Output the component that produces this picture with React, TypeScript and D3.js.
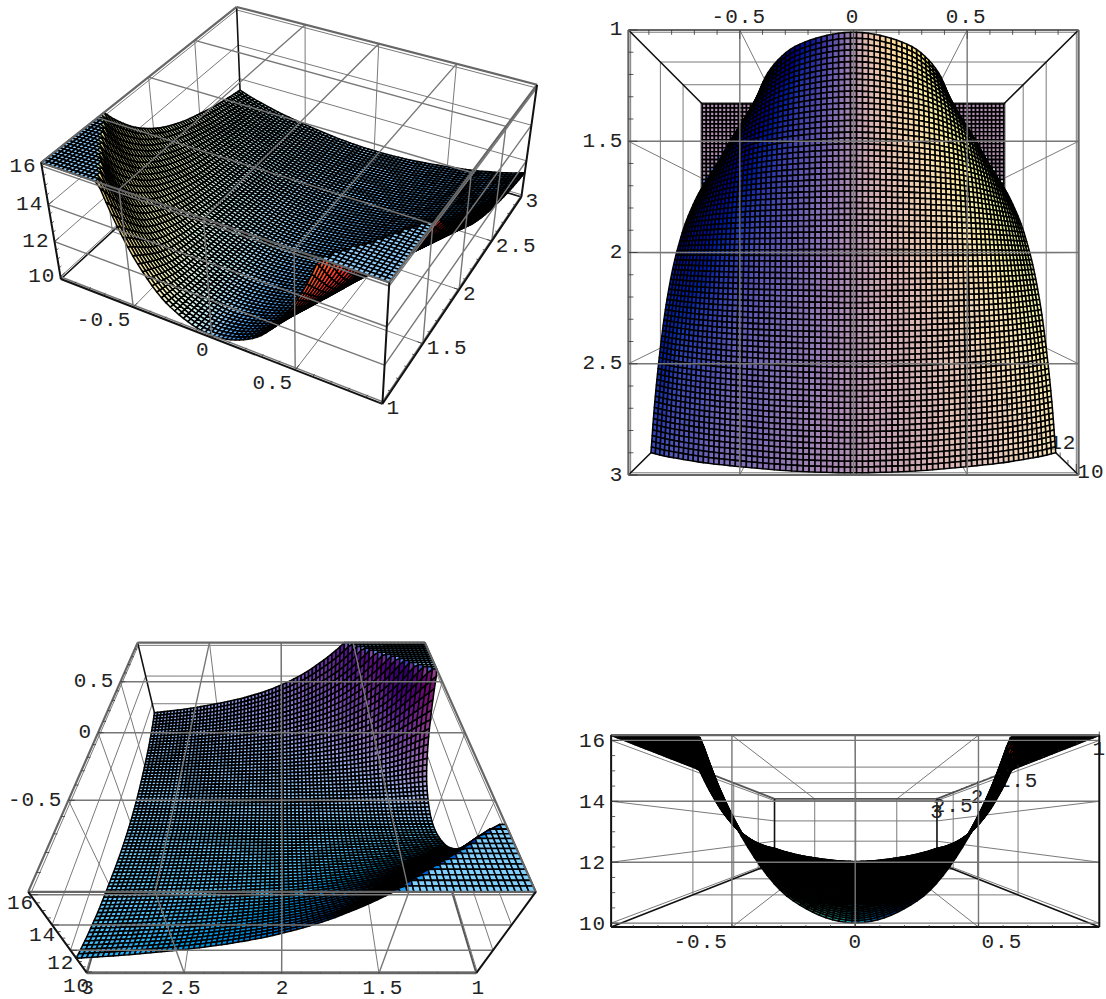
import React from "react";
import * as d3 from "d3";

// ---- data ----
const xTicks = [-0.5, 0, 0.5];
const yTicks = [1, 1.5, 2, 2.5, 3];
const zTicks = [10, 12, 14, 16];
const xDomain = [-0.99, 0.99];
const yDomain = [1, 3];
const zDomain = [9.87, 16.17];
const boxRatio = [1, 1, 0.4];

// surface height at |x| = 0, .1 ... 1, one row per y
const xKnots = [0, 0.1, 0.2, 0.3, 0.4, 0.5, 0.6, 0.7, 0.8, 0.9, 1];
const yKnots = [1, 1.25, 1.5, 1.75, 2, 2.25, 2.5, 2.75, 3];
const zY100 = [10, 10.13, 10.48, 11.05, 12.05, 13.45, 15.4, 18, 21, 24.5, 28];
const zY125 = [10, 10.09, 10.32, 10.67, 11.22, 12.05, 13.15, 14.55, 16.35, 18.6, 21];
const zY150 = [10, 10.06, 10.23, 10.48, 10.83, 11.33, 12.05, 12.95, 14.05, 15.4, 17];
const zY175 = [10, 10.05, 10.17, 10.36, 10.62, 10.96, 11.42, 12.05, 12.8, 13.7, 14.8];
const zY200 = [10, 10.03, 10.13, 10.28, 10.48, 10.72, 11.05, 11.48, 12.05, 12.7, 13.45];
const zY225 = [10, 10.03, 10.11, 10.23, 10.39, 10.59, 10.83, 11.15, 11.55, 12.05, 12.6];
const zY250 = [10, 10.02, 10.09, 10.19, 10.32, 10.48, 10.67, 10.92, 11.22, 11.57, 12.05];
const zY275 = [10, 10.02, 10.07, 10.15, 10.26, 10.41, 10.56, 10.75, 10.99, 11.27, 11.63];
const zY300 = [10, 10.02, 10.06, 10.13, 10.23, 10.35, 10.48, 10.63, 10.83, 11.05, 11.33];
const zRows = [zY100, zY125, zY150, zY175, zY200, zY225, zY250, zY275, zY300];

const meshCells = 75;

type V3 = [number, number, number];
type Corner = [number, number, number, number, number];
type AxisDef = {
  axis: "x" | "y" | "z"; at: [number, number]; dir: V3; labels: string[]; values: number[];
  anchor: string[]; dx: number[]; dy: number[]; behind?: boolean;
};
type PanelDef = {
  corners: Corner[]; axes: AxisDef[]; tilt: number; darkFloorEdges: boolean;
  normalZ: number; underGain: number; underLift: number; steepGain: number; wallBlue: number;
};

const [xa, xb] = xDomain, [ya, yb] = yDomain, [za, zb] = zDomain;
const all = (s: string) => [s, s, s, s, s];
const rep = (v: number) => [v, v, v, v, v];

// camera calibration: where each corner of the box lands in the picture
const panels: PanelDef[] = [
  {
    tilt: 0.25, darkFloorEdges: true, normalZ: 1, underGain: 1.35, underLift: 0.16, steepGain: 1, wallBlue: 0.25,
    corners: [
      [xa, ya, zb, 41.6, 163.3], [xb, ya, zb, 389.6, 284], [xb, yb, zb, 536, 84], [xa, yb, zb, 237, 6],
      [xa, ya, za, 60, 277.7], [xb, ya, za, 382.6, 403.3], [xb, yb, za, 522, 197], [xa, yb, za, 241, 114.6],
    ],
    axes: [
      { axis: "x", at: [ya, za], dir: [0, 0.04, 0], values: xTicks, labels: ["-0.5", "0", "0.5"], anchor: all("end"), dx: rep(-2), dy: rep(13) },
      { axis: "y", at: [xb, za], dir: [-0.03, 0, 0], values: yTicks, labels: ["1", "1.5", "2", "2.5", "3"], anchor: all("start"), dx: rep(4), dy: rep(5) },
      { axis: "z", at: [xa, ya], dir: [0, 0.04, 0], values: zTicks, labels: ["10", "12", "14", "16"], anchor: all("end"), dx: rep(-5), dy: rep(0) },
    ],
  },
  {
    tilt: 0, darkFloorEdges: false, normalZ: 0.6, underGain: 1, underLift: 0, steepGain: 1, wallBlue: 0,
    corners: [
      [xa, ya, za, 628.4, 30], [xb, ya, za, 1078.6, 30], [xb, yb, za, 1078.6, 475], [xa, yb, za, 628.4, 475],
      [xa, ya, zb, 702.3, 104], [xb, ya, zb, 1003.7, 104], [xb, yb, zb, 1003.7, 402], [xa, yb, zb, 702.3, 402],
    ],
    axes: [
      { axis: "x", at: [ya, za], dir: [0, 0.04, 0], values: xTicks, labels: ["-0.5", "0", "0.5"], anchor: all("middle"), dx: rep(-1), dy: rep(-12) },
      { axis: "y", at: [xa, za], dir: [0.04, 0, 0], values: yTicks, labels: ["1", "1.5", "2", "2.5", "3"], anchor: all("end"), dx: rep(-5), dy: rep(0) },
      { axis: "z", at: [xb, yb], dir: [0, -0.04, 0], values: zTicks, labels: ["10", "12", "14", "16"], anchor: all("start"), dx: [1, 3, 3, 3], dy: rep(0), behind: true },
    ],
  },
  {
    tilt: 0, darkFloorEdges: false, normalZ: 1, underGain: 1, underLift: 0, steepGain: 1.5, wallBlue: 0,
    corners: [
      [xa, yb, zb, 28.2, 891.7], [xa, ya, zb, 536, 891.7], [xb, yb, zb, 137.5, 642.7], [xb, ya, zb, 424.9, 642.7],
      [xa, yb, za, 87.1, 973.3], [xa, ya, za, 476, 973.3], [xb, yb, za, 158.7, 730.3], [xb, ya, za, 403.7, 730.3],
    ],
    axes: [
      { axis: "x", at: [yb, zb], dir: [0, -0.03, 0], values: xTicks, labels: ["-0.5", "0", "0.5"], anchor: all("end"), dx: rep(-6), dy: rep(0) },
      { axis: "y", at: [xa, za], dir: [0, 0, 0.12], values: yTicks, labels: ["1", "1.5", "2", "2.5", "3"], anchor: all("middle"), dx: [2, 4, 1, -3, 1], dy: rep(15) },
      { axis: "z", at: [xa, yb], dir: [0, -0.03, 0], values: zTicks, labels: ["10", "12", "14", "16"], anchor: all("end"), dx: rep(4), dy: [15, 13, 11, 9] },
    ],
  },
  {
    tilt: 0, darkFloorEdges: true, normalZ: 1, underGain: 1, underLift: 0, steepGain: 1, wallBlue: 0,
    corners: [
      [xa, ya, zb, 611.2, 735], [xb, ya, zb, 1099.2, 735], [xb, ya, za, 1099.2, 927.3], [xa, ya, za, 611.2, 927.3],
      [xa, yb, zb, 774.5, 799], [xb, yb, zb, 937, 799], [xb, yb, za, 937, 862.7], [xa, yb, za, 774.5, 862.7],
    ],
    axes: [
      { axis: "x", at: [ya, za], dir: [0, 0, 0.12], values: xTicks, labels: ["-0.5", "0", "0.5"], anchor: ["end", "middle", "start"], dx: [-4, 0, 3], dy: rep(15) },
      { axis: "y", at: [xb, zb], dir: [0, 0, 0.12], values: yTicks, labels: ["1", "1.5", "2", "2.5", "3"], anchor: all("middle"), dx: rep(0), dy: rep(14), behind: true },
      { axis: "z", at: [xa, ya], dir: [0.03, 0, 0], values: zTicks, labels: ["10", "12", "14", "16"], anchor: all("end"), dx: rep(-5), dy: rep(1) },
    ],
  },
];

// ---- small linear algebra ----
const sx = d3.scaleLinear().domain(xDomain).range([-boxRatio[0] / 2, boxRatio[0] / 2]);
const sy = d3.scaleLinear().domain(yDomain).range([-boxRatio[1] / 2, boxRatio[1] / 2]);
const sz = d3.scaleLinear().domain(zDomain).range([-boxRatio[2] / 2, boxRatio[2] / 2]);
const toBox = (p: V3): V3 => [sx(p[0]), sy(p[1]), sz(p[2])];
const dot = (a: number[], b: number[]) => a[0] * b[0] + a[1] * b[1] + a[2] * b[2];
const unit = (a: number[]): V3 => { const l = Math.hypot(a[0], a[1], a[2]) || 1; return [a[0] / l, a[1] / l, a[2] / l]; };
const sub = (a: number[], b: number[]): V3 => [a[0] - b[0], a[1] - b[1], a[2] - b[2]];
const scale = (a: number[], k: number): V3 => [a[0] * k, a[1] * k, a[2] * k];
const cross = (a: number[], b: number[]): V3 => [a[1] * b[2] - a[2] * b[1], a[2] * b[0] - a[0] * b[2], a[0] * b[1] - a[1] * b[0]];

function solve(A: number[][], b: number[]) {
  const n = b.length; const M = A.map((r, i) => [...r, b[i]]);
  for (let c = 0; c < n; c++) {
    let p = c; for (let r = c + 1; r < n; r++) if (Math.abs(M[r][c]) > Math.abs(M[p][c])) p = r;
    [M[c], M[p]] = [M[p], M[c]];
    for (let r = 0; r < n; r++) if (r !== c) {
      const f = M[r][c] / M[c][c];
      for (let k = c; k <= n; k++) M[r][k] -= f * M[c][k];
    }
  }
  return M.map((r, i) => r[n] / r[i]);
}

function makeCamera(corners: Corner[]) {
  const rows: number[][] = []; const rhs: number[] = [];
  corners.forEach((c) => {
    const [X, Y, Z] = toBox([c[0], c[1], c[2]]); const u = c[3], v = c[4];
    rows.push([X, Y, Z, 1, 0, 0, 0, 0, -u * X, -u * Y, -u * Z]); rhs.push(u);
    rows.push([0, 0, 0, 0, X, Y, Z, 1, -v * X, -v * Y, -v * Z]); rhs.push(v);
  });
  const n = 11; const AtA = d3.range(n).map((i) => d3.range(n).map((j) => d3.sum(rows, (r) => r[i] * r[j])));
  const Atb = d3.range(n).map((i) => d3.sum(rows, (r, k) => r[i] * rhs[k]));
  const p = solve(AtA, Atb);
  const m1 = p.slice(0, 3), m2 = p.slice(4, 7), m3 = p.slice(8, 11);
  const r3 = unit(m3);
  const r2 = unit(sub(m2, scale(r3, dot(m2, r3))));
  const r1 = unit(sub(sub(m1, scale(r3, dot(m1, r3))), scale(r2, dot(m1, r2))));
  const C = solve([m1, m2, m3], [-p[3], -p[7], -1]);
  const project = (q: V3) => {
    const b = toBox(q); const w = dot(m3, b) + 1;
    return { x: (dot(m1, b) + p[3]) / w, y: (dot(m2, b) + p[7]) / w, w };
  };
  return { project, r1, r2, r3, C };
}

// ---- surface ----
function knot(i: number, j: number): number {
  const nx = xKnots.length - 1, ny = yKnots.length - 1;
  if (i < 0) return knot(-i, j);
  if (i > nx) return 2 * knot(nx, j) - knot(2 * nx - i, j);
  if (j < 0) return 2 * knot(i, 0) - knot(i, -j);
  if (j > ny) return 2 * knot(i, ny) - knot(i, 2 * ny - j);
  return zRows[j][i];
}
const cr = (a: number, b: number, c: number, d: number, t: number) =>
  0.5 * (2 * b + (c - a) * t + (2 * a - 5 * b + 4 * c - d) * t * t + (3 * b - a - 3 * c + d) * t * t * t);
const fx = d3.scaleLinear().domain(d3.extent(xKnots) as number[]).range([0, xKnots.length - 1]);
const fy = d3.scaleLinear().domain(d3.extent(yKnots) as number[]).range([0, yKnots.length - 1]);
function surfaceZ(x: number, y: number) {
  const u = fx(Math.abs(x)), v = fy(y);
  const i = Math.min(Math.floor(u), xKnots.length - 2), j = Math.min(Math.floor(v), yKnots.length - 2);
  const col = (k: number) => cr(knot(k, j - 1), knot(k, j), knot(k, j + 1), knot(k, j + 2), v - j);
  const z = cr(col(i - 1), col(i), col(i + 1), col(i + 2), u - i);
  return Math.min(zb, Math.max(10, z));
}
const gridX = d3.range(meshCells + 1).map((i) => d3.scaleLinear().domain([0, meshCells]).range(xDomain)(i));
const gridY = d3.range(meshCells + 1).map((i) => d3.scaleLinear().domain([0, meshCells]).range(yDomain)(i));
const vertices: V3[][] = gridX.map((x) => gridY.map((y) => [x, y, surfaceZ(x, y)] as V3));

const lights: [number[], number][] = [[unit([1, 0, 1]), 0], [unit([1, 1, 1]), 1], [unit([0, 1, 1]), 2]];
const line2 = d3.line<{ x: number; y: number }>().x((d) => d.x).y((d) => d.y);

function minor(a: number, b: number, step: number) {
  const first = Math.ceil(a / step - 1e-9);
  const last = Math.floor(b / step + 1e-9);
  return d3.range(first, last + 1).map((k) => k * step);
}

function Panel({ def }: { def: PanelDef }) {
  const cam = makeCamera(def.corners);
  const seg = (a: V3, b: V3) => line2([cam.project(a), cam.project(b)]) as string;
  const bounds = [[xa, xb], [ya, yb], [za, zb]];
  const camData = [sx.invert(cam.C[0]), sy.invert(cam.C[1]), sz.invert(cam.C[2])];
  const near = (axis: number, side: number) => (side === 0 ? camData[axis] < bounds[axis][0] : camData[axis] > bounds[axis][1]);

  const tickSets = [xTicks.filter((t) => t > xa && t < xb), yTicks.filter((t) => t > ya && t < yb), zTicks];
  const backLines: string[] = [], frontLines: string[] = [];
  [0, 1, 2].forEach((axis) => [0, 1].forEach((side) => {
    const fixed = bounds[axis][side];
    const [a1, a2] = [0, 1, 2].filter((k) => k !== axis);
    const list = near(axis, side) ? frontLines : backLines;
    const pt = (k1: number, v1: number, k2: number, v2: number): V3 => {
      const p: V3 = [0, 0, 0]; p[axis] = fixed; p[k1] = v1; p[k2] = v2; return p;
    };
    tickSets[a1].forEach((t) => list.push(seg(pt(a1, t, a2, bounds[a2][0]), pt(a1, t, a2, bounds[a2][1]))));
    tickSets[a2].forEach((t) => list.push(seg(pt(a2, t, a1, bounds[a1][0]), pt(a2, t, a1, bounds[a1][1]))));
  }));

  const backEdges: string[] = [], frontEdges: string[] = [], backDark: string[] = [], frontDark: string[] = [];
  [0, 1, 2].forEach((axis) => {
    const [a1, a2] = [0, 1, 2].filter((k) => k !== axis);
    [0, 1].forEach((s1) => [0, 1].forEach((s2) => {
      const p: V3 = [0, 0, 0], q: V3 = [0, 0, 0];
      p[a1] = q[a1] = bounds[a1][s1]; p[a2] = q[a2] = bounds[a2][s2];
      p[axis] = bounds[axis][0]; q[axis] = bounds[axis][1];
      const isFront = near(a1, s1) || near(a2, s2);
      const dark = axis === 2 || (def.darkFloorEdges && p[2] === za && q[2] === za);
      (isFront ? (dark ? frontDark : frontEdges) : dark ? backDark : backEdges).push(seg(p, q));
    }));
  });

  const ct = Math.cos(def.tilt), st = Math.sin(def.tilt);
  const cells: { d: string; w: number; fill: string }[] = [];
  for (let i = 0; i < meshCells; i++) for (let j = 0; j < meshCells; j++) {
    const a = vertices[i][j], b = vertices[i + 1][j], c = vertices[i + 1][j + 1], e = vertices[i][j + 1];
    const pa = cam.project(a), pb = cam.project(b), pc = cam.project(c), pe = cam.project(e);
    const A = toBox(a), B = toBox(b), CC = toBox(c), E = toBox(e);
    let n = unit(cross(sub(CC, A), sub(E, B)));
    const mid: V3 = scale([A[0] + B[0] + CC[0] + E[0], A[1] + B[1] + CC[1] + E[1], A[2] + B[2] + CC[2] + E[2]], 0.25);
    if (dot(n, sub(cam.C, mid)) < 0) n = scale(n, -1);
    const under = n[2] < 0;
    const steep = 1 - Math.abs(n[2]);
    n = unit([n[0], n[1], n[2] * def.normalZ]);
    const ny0 = -dot(n, cam.r2), nz0 = -dot(n, cam.r3);
    const cT = under ? 1 : ct, sT = under ? 0 : st;
    const nv = [dot(n, cam.r1), ny0 * cT - nz0 * sT, ny0 * sT + nz0 * cT];
    const gain = (under ? def.underGain : 1) * (1 + (def.steepGain - 1) * steep);
    const lift = under ? def.underLift : 0;
    const rgb = [0, 0, 0];
    lights.forEach(([l, k]) => { rgb[k] = Math.max(0, Math.min(1, Math.max(0, dot(nv, l)) * gain + lift)); });
    if (!under) rgb[2] = Math.min(1, rgb[2] + def.wallBlue * steep);
    cells.push({
      d: (line2([pa, pb, pc, pe]) as string) + "Z",
      w: (pa.w + pb.w + pc.w + pe.w) / 4,
      fill: d3.rgb(rgb[0] * 255, rgb[1] * 255, rgb[2] * 255).formatHex(),
    });
  }
  cells.sort((p, q) => q.w - p.w);

  const axisPoint = (ax: AxisDef, v: number): V3 =>
    ax.axis === "x" ? [v, ax.at[0], ax.at[1]] : ax.axis === "y" ? [ax.at[0], v, ax.at[1]] : [ax.at[0], ax.at[1], v];
  const tickPaths: string[] = [];
  def.axes.forEach((ax) => {
    const isZ = ax.axis === "z";
    const dom = ax.axis === "x" ? xDomain : ax.axis === "y" ? yDomain : zDomain;
    const step = isZ ? 0.5 : 0.1; const majorStep = isZ ? 2 : 0.5;
    minor(dom[0], dom[1], step).forEach((v) => {
      const isMajor = Math.abs(v / majorStep - Math.round(v / majorStep)) < 1e-6;
      const p = axisPoint(ax, v); const k = isMajor ? 1 : 0.55;
      tickPaths.push(seg(p, [p[0] + ax.dir[0] * k, p[1] + ax.dir[1] * k, p[2] + ax.dir[2] * k]));
    });
  });
  const labels = (behind: boolean) => def.axes.filter((a) => !!a.behind === behind).map((ax) =>
    ax.values.map((v, i) => {
      const p = cam.project(axisPoint(ax, v));
      return (
        <text key={ax.axis + i} x={p.x + ax.dx[i]} y={p.y + ax.dy[i]} textAnchor={ax.anchor[i] as any} dominantBaseline="central"
          fontFamily="'Liberation Mono', monospace" fontSize={21} letterSpacing={1} fill="#222">{ax.labels[i]}</text>
      );
    }));

  return (
    <g>
      <path d={backLines.join("")} fill="none" stroke="#7a7a7a" strokeWidth={1} />
      <path d={backEdges.join("")} fill="none" stroke="#555" strokeWidth={1.8} />
      <path d={backDark.join("")} fill="none" stroke="#111" strokeWidth={1.6} />
      {labels(true)}
      <g stroke="#000" strokeWidth={1.55} strokeLinejoin="round">
        {cells.map((c, i) => <path key={i} d={c.d} fill={c.fill} />)}
      </g>
      <path d={frontLines.join("")} fill="none" stroke="#777" strokeWidth={1.4} />
      <path d={frontEdges.join("")} fill="none" stroke="#666" strokeWidth={2.2} />
      <path d={frontDark.join("")} fill="none" stroke="#111" strokeWidth={2} />
      <path d={tickPaths.join("")} fill="none" stroke="#333" strokeWidth={0.8} />
      {labels(false)}
    </g>
  );
}

export default function App() {
  return (
    <svg width={1106} height={999} viewBox="0 0 1106 999" style={{ position: "absolute", left: 0, top: 0, background: "#fff" }}>
      {panels.map((p, i) => <Panel key={i} def={p} />)}
    </svg>
  );
}
